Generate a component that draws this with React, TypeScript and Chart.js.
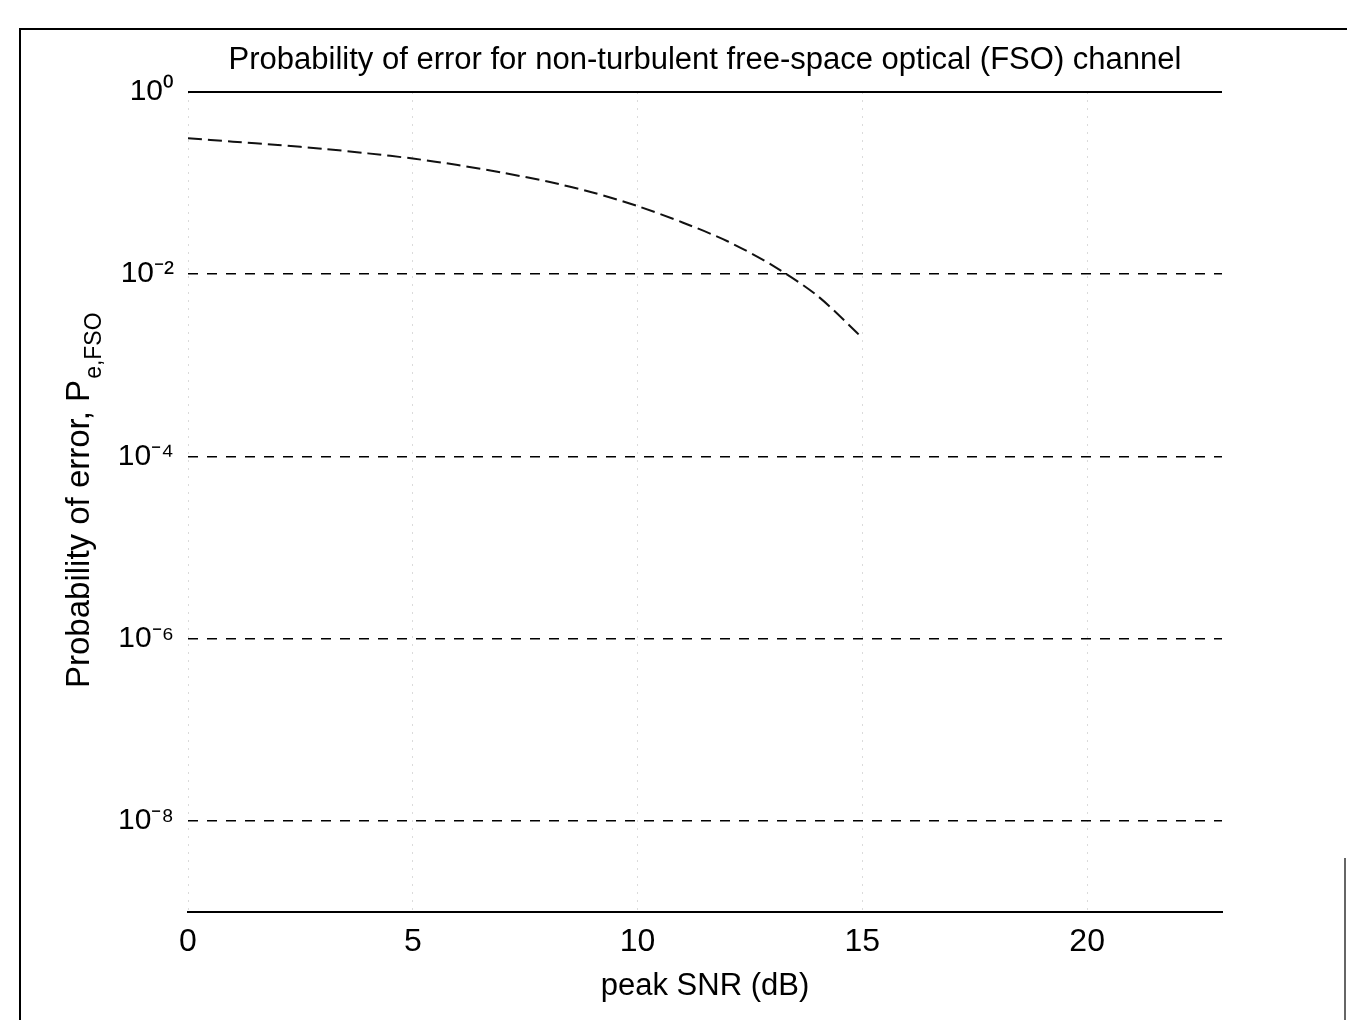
import React, { useEffect, useRef } from "react";
import { Chart, registerables } from "chart.js";

Chart.register(...registerables);

const snrDb = [0, 1, 2, 3, 4, 5, 6, 7, 8, 9, 10, 11, 12, 13, 14, 15];
const peFso = [0.31, 0.285, 0.262, 0.238, 0.212, 0.186, 0.158, 0.13, 0.104, 0.079, 0.056, 0.037, 0.023, 0.0125, 0.0058, 0.002];

const xTickValues = [0, 5, 10, 15, 20];
const yTickValues = [1, 1e-2, 1e-4, 1e-6, 1e-8];
const yTickLabels = ["10⁰", "10⁻²", "10⁻⁴", "10⁻⁶", "10⁻⁸"];

const titleText = "Probability of error for non-turbulent free-space optical (FSO) channel";
const xTitle = "peak SNR (dB)";
const yTitleMain = "Probability of error, P";
const yTitleSub = "e,FSO";

const FONT = "'Liberation Sans', Arial, Helvetica, sans-serif";

const yTitlePlugin = {
  id: "yTitleSub",
  afterDraw(chart: any) {
    const ctx = chart.ctx;
    ctx.save();
    ctx.translate(89, 688);
    ctx.rotate(-Math.PI / 2);
    ctx.fillStyle = "#000";
    ctx.textAlign = "left";
    ctx.textBaseline = "alphabetic";
    ctx.font = `33px ${FONT}`;
    ctx.fillText(yTitleMain, 0, 0);
    const w = ctx.measureText(yTitleMain).width;
    ctx.font = `23px ${FONT}`;
    ctx.fillText(yTitleSub, w + 1, 12);
    ctx.restore();
  },
};

export default function App() {
  const canvasRef = useRef<HTMLCanvasElement | null>(null);

  useEffect(() => {
    if (!canvasRef.current) return;
    const chart = new Chart(canvasRef.current, {
      type: "line",
      data: {
        datasets: [
          {
            label: "Pe,FSO",
            data: snrDb.map((x, i) => ({ x, y: peFso[i] })),
            borderColor: "#111",
            borderWidth: 2,
            borderDash: [14, 6],
            pointRadius: 0,
            tension: 0.3,
            fill: false,
          },
        ],
      },
      options: {
        animation: false,
        responsive: true,
        maintainAspectRatio: false,
        layout: { padding: { left: 0, right: 125, top: 0, bottom: 0 } },
        plugins: {
          legend: { display: false },
          tooltip: { enabled: false },
          title: {
            display: true,
            text: titleText,
            fullSize: false,
            color: "#000",
            font: { family: FONT, size: 31, weight: "normal", lineHeight: 1.2 },
            padding: { top: 42, bottom: 12.8 },
          },
        },
        scales: {
          x: {
            type: "linear",
            min: 0,
            max: 23,
            afterBuildTicks: (s: any) => {
              s.ticks = xTickValues.map((v) => ({ value: v }));
            },
            afterFit: (s: any) => {
              s.height = 108;
            },
            ticks: {
              color: "#000",
              font: { family: FONT, size: 32 },
              padding: 11,
              maxRotation: 0,
            },
            grid: {
              drawTicks: false,
              color: "rgba(0,0,0,0.14)",
              lineWidth: 1,
            },
            border: { display: true, color: "#000", width: 2, dash: [2, 6] },
            title: {
              display: true,
              text: xTitle,
              color: "#000",
              font: { family: FONT, size: 31 },
              padding: { top: 0, bottom: 15 },
            },
          },
          y: {
            type: "logarithmic",
            min: 1e-9,
            max: 1,
            afterBuildTicks: (s: any) => {
              s.ticks = yTickValues.map((v) => ({ value: v }));
            },
            afterFit: (s: any) => {
              s.width = 188;
            },
            ticks: {
              color: "#000",
              font: { family: FONT, size: 30 },
              padding: 14,
              callback: (v: any) => {
                const i = yTickValues.findIndex((t) => Math.abs(Math.log10(t) - Math.log10(v)) < 1e-6);
                return i >= 0 ? yTickLabels[i] : "";
              },
            },
            grid: {
              drawTicks: false,
              color: "#000",
              lineWidth: (c: any) => (c.tick && c.tick.value === 1 ? 2 : 1.5),
            },
            border: {
              display: false,
              dash: (c: any) => (c.tick && c.tick.value === 1 ? [] : [10, 9]),
            },
          },
        },
      },
      plugins: [yTitlePlugin],
    });
    return () => chart.destroy();
  }, []);

  return (
    <div style={{ position: "fixed", left: 0, top: 0, width: 1347, height: 1020, background: "#fff" }}>
      <div
        style={{
          position: "absolute",
          left: 19,
          top: 28,
          width: 1340,
          height: 1000,
          borderTop: "2px solid #000",
          borderLeft: "2px solid #000",
          boxSizing: "border-box",
        }}
      />
      <div
        style={{
          position: "absolute",
          left: 1344,
          top: 858,
          width: 0,
          height: 162,
          borderLeft: "2px solid #666",
        }}
      />
      <canvas ref={canvasRef} style={{ position: "absolute", left: 0, top: 0 }} />
    </div>
  );
}
